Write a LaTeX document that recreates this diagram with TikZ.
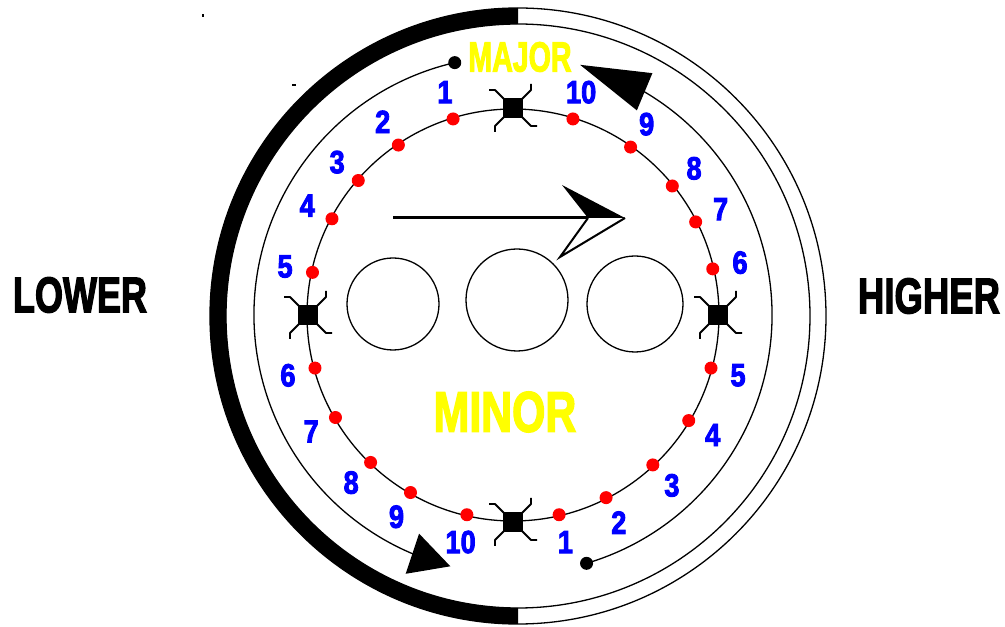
\documentclass[tikz,border=0pt]{standalone}
\usepackage{graphicx}
\usepackage{fontspec}
\setmainfont{Liberation Sans}
\newfontfamily\heavyfont{Liberation Sans Bold}[FakeBold=3]
\usetikzlibrary{arrows.meta, bending}
\definecolor{numblue}{RGB}{0,0,255}
\definecolor{wordyellow}{RGB}{255,255,0}
\definecolor{dotred}{RGB}{255,0,0}
\tikzset{
  ring/.style={line width=1.3pt},
  reddot/.style={circle, fill=dotred, inner sep=0pt, minimum size=13pt},
  enddot/.style={circle, fill=black, inner sep=0pt, minimum size=13pt},
  num/.style={text=numblue, inner sep=0pt, font=\fontsize{32}{32}\heavyfont},
  sideword/.style={inner sep=0pt, font=\fontsize{50}{50}\heavyfont},
  keyword/.style={text=wordyellow, inner sep=0pt},
  cross/.pic={
    \fill (-10,-10) rectangle (10,10);
    \draw[line width=1.8pt, line join=round] (-24,18) -- (-18,18) -- (18,-18) -- (24,-18)
                            (-18,-24) -- (-18,-18) -- (18,18) -- (18,24);
  },
}
\begin{document}
\begin{tikzpicture}[x=1pt, y=1pt]
\useasboundingbox (0,0) rectangle (1005,627);
% outer band, filled on the lower side
\fill (518,311) ++(90:308) arc[start angle=90, end angle=270, radius=308]
  -- ++(0,16) arc[start angle=270, end angle=90, radius=292] -- cycle;
\draw[ring] (518,311) circle[radius=308];
\draw[ring] (518,311) circle[radius=292];
% stray marks
\fill (202,609.5) rectangle (204,612.5);
\fill (292,541) rectangle (296,543);
% side words
\node[sideword] (lower) at (80,332) {\scalebox{0.72}[1]{LOWER}};
\node[sideword] (higher) at (929,331) {\scalebox{0.73}[1]{HIGHER}};
% three circles in the middle
\draw[ring] (393,323) circle[radius=46];
\draw[ring] (517,327) circle[radius=51];
\draw[ring] (635,323) circle[radius=48];
% arrow over the circles
\coordinate (tail) at (393,409);
\coordinate (notch) at (588,409);
\coordinate (head) at (625,409);
\draw[line width=3pt] (tail) -- (notch);
\fill (notch) -- (562,442) -- (head) -- cycle;
\draw[line width=2pt] (notch) -- (560,370) -- (head);
\node[keyword, font=\fontsize{57}{57}\heavyfont] (minor) at (505,215) {\scalebox{0.75}[1]{MINOR}};
\node[keyword, font=\fontsize{42}{42}\heavyfont] (major) at (520,570) {\scalebox{0.68}[1]{MAJOR}};
\begin{scope}[shift={(513,312)}]
  % second ring, two arcs
  \node[enddot] (start1) at (103:259) {};
  \node[enddot] (start2) at (286.5:259) {};
  \draw[ring, -{Triangle[length=40pt, width=42pt, flex]}] (start1.center)
    arc[start angle=103, end angle=256, radius=259];
  \draw[ring, -{Triangle[length=70pt, width=40pt, flex]}] (start2.center)
    arc[start angle=286.5, end angle=435, radius=259];
  % inner ring with the steps
  \draw[ring] (0,0) circle[radius=206];
  \foreach \a/\n in {107/1, 124/2, 139/3, 152/4, 168/5, 195/6, 210/7, 226/8,
                     240/9, 257/10, 283/1, 297/2, 313/3, 329/4, 345/5,
                     13/6, 27/7, 39/8, 55/9, 73/10} {
    \node[reddot] (dot\a) at (\a:205) {};
    \node[num] (lab\a) at (\a:233) {\scalebox{0.85}[1]{\n}};
  }
  \pic (xright) at (0:205) {cross};
  \pic (xtop) at (90:207) {cross};
  \pic (xleft) at (180:205) {cross};
  \pic (xbottom) at (270:207) {cross};
\end{scope}
\end{tikzpicture}
\end{document}
